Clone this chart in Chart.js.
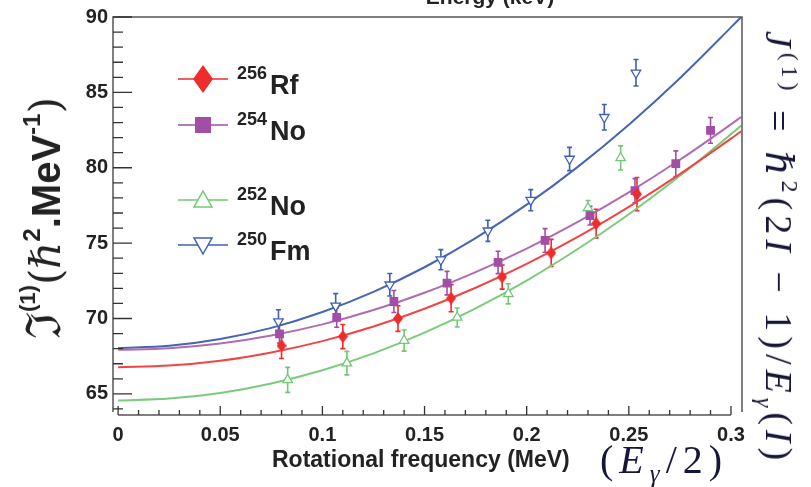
<!DOCTYPE html>
<html>
<head>
<meta charset="utf-8">
<title>Moment of inertia vs rotational frequency</title>
<script src="https://cdn.jsdelivr.net/npm/chart.js@4.4.1/dist/chart.umd.min.js"></script>
<style>
  body { margin: 0; background: #fff; }
  #wrap { position: relative; width: 811px; height: 487px; overflow: hidden; }
  #wrap canvas { position: absolute; left: 0; top: 0; }
  .txt { position: absolute; white-space: nowrap; line-height: 1; color: #222; }
  .sans { font-family: 'Liberation Sans', Arial, sans-serif; font-weight: bold; }
  .serif { font-family: 'Liberation Serif', 'DejaVu Serif', serif; color: #16163a; }
  .up { position: relative; }
  #ytitle { left: 43px; top: 218px; transform: translate(-50%, -50%) rotate(-90deg); }
  #rtitle { left: 779px; top: 248px; transform: translate(-50%, -50%) rotate(90deg); font-size: 38px; letter-spacing: 5px; }
  #btitle { left: 600px; top: 440px; font-size: 40px; letter-spacing: 6px; }
  #ttitle { left: 490px; top: -14px; transform: translateX(-50%); font-size: 21px; }
  #xtitle { left: 272px; top: 448px; font-size: 23px; }
</style>
</head>
<body>
<div id="wrap">
  <canvas id="chart"></canvas>
  <div id="ttitle" class="txt sans">Energy (keV)</div>
  <div id="xtitle" class="txt sans">Rotational frequency (MeV)</div>
  <div id="ytitle" class="txt"><span style="font-family:'DejaVu Serif',serif;font-size:48px">ℑ</span><span class="sans up" style="font-size:22px;top:-25px">(1)</span><span style="font-family:'DejaVu Serif',serif;font-size:42px">(<i>ℏ</i></span><span class="sans up" style="font-size:24px;top:-20px">2</span><span class="sans" style="font-size:40px">.MeV</span><span class="sans up" style="font-size:24px;top:-20px">-1</span><span style="font-family:'DejaVu Serif',serif;font-size:42px">)</span></div>
  <div id="rtitle" class="txt serif"><i>J</i><span class="up" style="font-size:24px;top:-16px">(1)</span> = <i style="font-family:'DejaVu Serif',serif">ℏ</i><span class="up" style="font-size:24px;top:-16px">2</span>(2<i>I</i> − 1)/<i>E</i><span class="up" style="font-size:24px;top:9px"><i>γ</i></span>(<i>I</i>)</div>
  <div id="btitle" class="txt serif">(<i>E</i><span class="up" style="font-size:25px;top:9px"><i>γ</i></span>/2)</div>
  <div id="legend"></div>
</div>
<script>
// 256Rf (filled diamonds)
const rfOmega = [0.080, 0.110, 0.137, 0.163, 0.188, 0.212, 0.234, 0.254];
const rfJ     = [68.2, 68.8, 70.0, 71.35, 72.75, 74.35, 76.3, 78.25];
const rfErr   = [0.85, 0.8, 0.85, 0.9, 0.8, 0.9, 0.95, 1.1];

// 254No (filled squares)
const no254Omega = [0.079, 0.107, 0.135, 0.161, 0.186, 0.209, 0.231, 0.253, 0.273, 0.290];
const no254J     = [68.98, 70.07, 71.13, 72.35, 73.72, 75.18, 76.82, 78.48, 80.27, 82.48];
const no254Err   = [0.6, 0.65, 0.73, 0.78, 0.74, 0.78, 0.62, 0.8, 0.85, 0.85];

// 252No (open triangles up)
const no252Omega = [0.083, 0.112, 0.140, 0.166, 0.191, 0.230, 0.246];
const no252J     = [65.93, 67.04, 68.54, 70.07, 71.64, 77.33, 80.65];
const no252Err   = [0.83, 0.78, 0.7, 0.63, 0.67, 0.5, 0.8];

// 250Fm (open triangles down)
const fmOmega = [0.0785, 0.1065, 0.133, 0.158, 0.181, 0.202, 0.221, 0.238, 0.2535];
const fmJ     = [69.8, 70.84, 72.24, 73.9, 75.82, 77.85, 80.58, 83.35, 86.3];
const fmErr   = [0.78, 0.81, 0.75, 0.67, 0.7, 0.7, 0.77, 0.85, 0.88];

// fitted curves
const fitOmega = [0, 0.025, 0.05, 0.075, 0.1, 0.125, 0.15, 0.175, 0.2, 0.225, 0.25, 0.275, 0.3, 0.305];
const rfFit    = [66.77, 66.88, 67.20, 67.75, 68.50, 69.47, 70.65, 72.04, 73.63, 75.42, 77.41, 79.58, 81.93, 82.42];
const no254Fit = [67.92, 68.03, 68.34, 68.87, 69.61, 70.56, 71.71, 73.08, 74.64, 76.41, 78.37, 80.53, 82.88, 83.37];
const no252Fit = [64.56, 64.69, 65.06, 65.69, 66.57, 67.69, 69.06, 70.67, 72.52, 74.61, 76.92, 79.47, 82.23, 82.80];
const fmFit    = [68.04, 68.19, 68.64, 69.38, 70.43, 71.77, 73.40, 75.33, 77.55, 80.06, 82.86, 85.94, 89.31, 90.0];

const massNumbers = ['256', '254', '252', '250'];
const elements = ['Rf', 'No', 'No', 'Fm'];

const RED = '#ee2c2c', MAG = '#a24ea6', GRN = '#74c774', BLU = '#3f5fb0';
const legendRows = [79, 125, 200, 245];
const TICK_FONT = { family: "'Liberation Sans', Arial, sans-serif", size: 20, weight: 'bold' };

const pts = (xs, ys) => xs.map((x, i) => ({ x: x, y: ys[i] }));
const isMajor = (v, step) => Math.abs(v / step - Math.round(v / step)) < 1e-6;

function diamondImg(w, h, color) {
    const c = document.createElement('canvas');
    c.width = w; c.height = h;
    const g = c.getContext('2d');
    g.fillStyle = color;
    g.beginPath();
    g.moveTo(w / 2, 0); g.lineTo(w, h / 2); g.lineTo(w / 2, h); g.lineTo(0, h / 2);
    g.closePath(); g.fill();
    return c;
}

const markerSet = (label, xs, ys, errs, color, style) => Object.assign({
    label: label,
    data: pts(xs, ys),
    errors: errs,
    showLine: false,
    order: 0,
    borderColor: color,
    backgroundColor: color,
    borderWidth: 1.3,
    pointRadius: 5.5
}, style);

const fitSet = (xs, ys, color) => ({
    data: pts(xs, ys),
    showLine: true,
    order: 1,
    borderColor: color,
    borderWidth: 2,
    pointRadius: 0,
    cubicInterpolationMode: 'monotone'
});

// vertical error bars, under the markers
const errorBars = {
    id: 'errorBars',
    beforeDatasetsDraw(chart) {
        const { ctx, scales: { x, y } } = chart;
        ctx.save();
        chart.data.datasets.forEach(ds => {
            if (!ds.errors) return;
            ctx.strokeStyle = ds.borderColor;
            ctx.lineWidth = 1.6;
            ds.data.forEach((p, i) => {
                const px = x.getPixelForValue(p.x);
                const top = y.getPixelForValue(p.y + ds.errors[i]);
                const bot = y.getPixelForValue(p.y - ds.errors[i]);
                ctx.beginPath();
                ctx.moveTo(px, top); ctx.lineTo(px, bot);
                ctx.moveTo(px - 2.5, top); ctx.lineTo(px + 2.5, top);
                ctx.moveTo(px - 2.5, bot); ctx.lineTo(px + 2.5, bot);
                ctx.stroke();
            });
        });
        ctx.restore();
    }
};

// ROOT style frame with inward ticks, plus the legend symbols
const frame = {
    id: 'frame',
    afterDraw(chart) {
        const { ctx, chartArea: a, scales: { x, y } } = chart;
        ctx.save();
        ctx.strokeStyle = '#555';
        ctx.lineWidth = 1.5;
        ctx.beginPath();
        ctx.moveTo(a.left, a.bottom - 3); ctx.lineTo(a.left, a.top);
        ctx.lineTo(a.right, a.top); ctx.lineTo(a.right, a.bottom - 3);
        ctx.moveTo(x.getPixelForValue(0), a.bottom); ctx.lineTo(x.getPixelForValue(0.3), a.bottom);
        ctx.stroke();

        ctx.strokeStyle = '#333';
        ctx.lineWidth = 1.3;
        ctx.beginPath();
        x.ticks.forEach(t => {
            if (t.value < 0) return;
            const px = x.getPixelForValue(t.value);
            ctx.moveTo(px, a.bottom); ctx.lineTo(px, a.bottom - (isMajor(t.value, 0.05) ? 9 : 5));
        });
        y.ticks.forEach(t => {
            const py = y.getPixelForValue(t.value);
            ctx.moveTo(a.left, py); ctx.lineTo(a.left + (isMajor(t.value, 5) ? 19 : 10), py);
        });
        ctx.stroke();

        // legend symbols
        const cols = [RED, MAG, GRN, BLU];
        legendRows.forEach((ly, i) => {
            const cx = 203;
            ctx.strokeStyle = cols[i];
            ctx.fillStyle = cols[i];
            ctx.lineWidth = 1.5;
            ctx.beginPath(); ctx.moveTo(178, ly); ctx.lineTo(228, ly); ctx.stroke();
            ctx.beginPath();
            if (i === 0) {
                ctx.moveTo(cx, ly - 14); ctx.lineTo(cx + 10, ly); ctx.lineTo(cx, ly + 14); ctx.lineTo(cx - 10, ly);
                ctx.closePath(); ctx.fill();
            } else if (i === 1) {
                ctx.rect(cx - 8, ly - 8, 16, 16); ctx.fill();
            } else if (i === 2) {
                ctx.moveTo(cx, ly - 9); ctx.lineTo(cx + 9, ly + 7); ctx.lineTo(cx - 9, ly + 7); ctx.closePath();
                ctx.fillStyle = '#fff'; ctx.fill(); ctx.stroke();
            } else {
                ctx.moveTo(cx, ly + 9); ctx.lineTo(cx + 9, ly - 7); ctx.lineTo(cx - 9, ly - 7); ctx.closePath();
                ctx.fillStyle = '#fff'; ctx.fill(); ctx.stroke();
            }
        });
        ctx.restore();
    }
};

// legend text
document.getElementById('legend').innerHTML = massNumbers.map((m, i) => `
    <div class="txt sans" style="left:237px;top:${legendRows[i] - 15}px;font-size:18px">${m}</div>
    <div class="txt sans" style="left:270px;top:${legendRows[i] - 7}px;font-size:27px">${elements[i]}</div>
`).join('');

new Chart(document.getElementById('chart'), {
    type: 'scatter',
    data: {
        datasets: [
            markerSet('256Rf', rfOmega, rfJ, rfErr, RED, { pointStyle: diamondImg(10, 13, RED) }),
            markerSet('254No', no254Omega, no254J, no254Err, MAG, { pointStyle: 'rect', pointRadius: 5.3 }),
            markerSet('252No', no252Omega, no252J, no252Err, GRN, { pointStyle: 'triangle', backgroundColor: '#fff' }),
            markerSet('250Fm', fmOmega, fmJ, fmErr, BLU, { pointStyle: 'triangle', pointRotation: 180, backgroundColor: '#fff' }),
            fitSet(fitOmega, rfFit, '#f04545'),
            fitSet(fitOmega, no254Fit, '#b06cb0'),
            fitSet(fitOmega, no252Fit, '#7acb7a'),
            fitSet(fitOmega, fmFit, '#4666b2')
        ]
    },
    options: {
        responsive: true,
        maintainAspectRatio: false,
        animation: false,
        layout: { padding: { top: 17, right: 69, left: 0, bottom: 0 } },
        plugins: { legend: { display: false }, tooltip: { enabled: false } },
        scales: {
            x: {
                type: 'linear',
                min: -0.0025,
                max: 0.3054,
                grid: { display: false, drawTicks: false },
                border: { display: false },
                afterFit: s => { s.height = 72; },
                ticks: {
                    stepSize: 0.01,
                    includeBounds: false,
                    autoSkip: false,
                    maxTicksLimit: 100,
                    maxRotation: 0,
                    padding: 8,
                    color: '#222',
                    font: TICK_FONT,
                    callback: v => (v >= 0 && isMajor(v, 0.05)) ? String(+v.toFixed(2)) : ''
                }
            },
            y: {
                min: 63.6,
                max: 90,
                grid: { display: false, drawTicks: false },
                border: { display: false },
                afterFit: s => { s.width = 113; },
                ticks: {
                    stepSize: 1,
                    includeBounds: false,
                    autoSkip: false,
                    maxTicksLimit: 100,
                    padding: 5,
                    color: '#222',
                    font: TICK_FONT,
                    callback: v => isMajor(v, 5) ? String(Math.round(v)) : ''
                }
            }
        }
    },
    plugins: [errorBars, frame]
});
</script>
</body>
</html>
